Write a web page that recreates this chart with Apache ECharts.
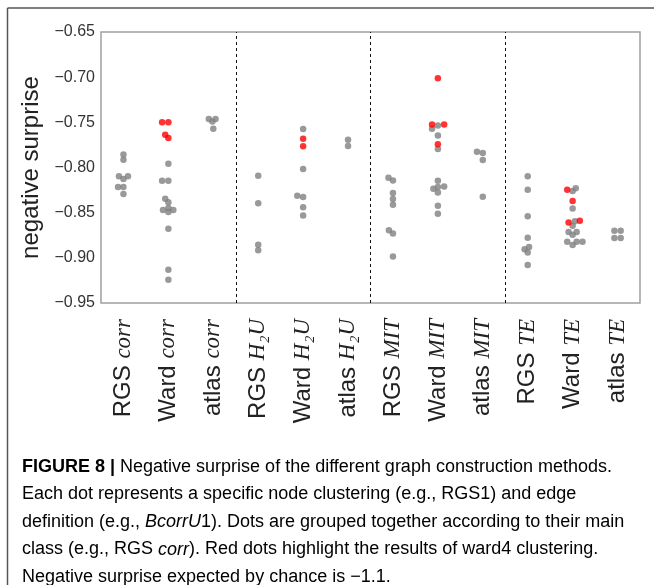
<!DOCTYPE html>
<html>
<head>
<meta charset="utf-8">
<script src="https://cdn.jsdelivr.net/npm/echarts@6/dist/echarts.min.js"></script>
<style>
html,body{margin:0;padding:0;background:#fff;}
#chart{width:654px;height:585px;}
</style>
</head>
<body>
<div id="chart"></div>
<script>
// ---- data ----
const methods = ['RGS', 'Ward', 'atlas'];
const classes = ['corr', 'H₂U', 'MIT', 'TE'];
const categories = classes.flatMap(c => methods.map(m => m + ' ' + c));

const yTicks = [-0.95, -0.90, -0.85, -0.80, -0.75, -0.70, -0.65];

const grayValues = [
  [-0.7855, -0.7914, -0.8098, -0.8098, -0.8128, -0.8216, -0.8216, -0.8293],
  [-0.7958, -0.8146, -0.8146, -0.8345, -0.8386, -0.8448, -0.847, -0.847, -0.8493, -0.8678, -0.9131, -0.9242],
  [-0.7463, -0.7463, -0.749, -0.757],
  [-0.809, -0.8397, -0.8855, -0.8917],
  [-0.7574, -0.8017, -0.8312, -0.8327, -0.8441, -0.853],
  [-0.7692, -0.7762],
  [-0.8113, -0.8143, -0.8283, -0.8349, -0.8412, -0.8696, -0.873, -0.8984],
  [-0.7535, -0.757, -0.7645, -0.7795, -0.8146, -0.8209, -0.8215, -0.8235, -0.8276, -0.8423, -0.8512],
  [-0.7825, -0.784, -0.7917, -0.8323],
  [-0.8098, -0.8246, -0.8541, -0.8777, -0.888, -0.8906, -0.894, -0.908],
  [-0.823, -0.826, -0.8453, -0.8595, -0.8644, -0.8714, -0.8714, -0.8744, -0.8822, -0.8822, -0.8822, -0.8858],
  [-0.870, -0.870, -0.878, -0.878]
];
// swarm offsets (in category widths)
const grayJitter = [
  [0, 0, -0.1, 0.1, 0, -0.12, 0, 0],
  [0, -0.14, 0, -0.07, 0, 0, -0.12, 0.11, 0, 0, 0, 0],
  [-0.1, 0.05, -0.02, 0],
  [0, 0, 0, 0],
  [0, 0, -0.13, 0, 0, 0],
  [0, 0],
  [-0.1, 0, 0, 0, 0, -0.09, 0, 0],
  [0, -0.13, 0, 0, 0, 0.14, 0, -0.1, 0, 0, 0],
  [-0.13, 0, 0, 0],
  [0, 0, 0, 0, 0.03, -0.07, 0, 0],
  [0.07, 0, 0, 0.05, 0, -0.09, 0.09, 0, -0.12, 0.09, 0.22, 0],
  [-0.07, 0.07, -0.07, 0.07]
];
const redValues = [
  [], [-0.750, -0.750, -0.7637, -0.7674], [],
  [], [-0.7681, -0.7766], [],
  [], [-0.7013, -0.7523, -0.7523, -0.7744], [],
  [], [-0.8246, -0.8371, -0.8608, -0.8589], []
];
const redJitter = [
  [], [-0.14, 0, -0.07, 0], [],
  [], [0, 0], [],
  [], [0, -0.13, 0.14, 0], [],
  [], [-0.12, 0, -0.09, 0.16], []
];
const groupSeparators = [2.5, 5.5, 8.5];

const captionLines = [
  [['b', 'FIGURE 8 | '], ['n', 'Negative surprise of the different graph construction methods.']],
  [['n', 'Each dot represents a specific node clustering (e.g., RGS1) and edge']],
  [['n', 'definition (e.g., '], ['i', 'BcorrU'], ['n', '1). Dots are grouped together according to their main']],
  [['n', 'class (e.g., RGS '], ['i', 'corr'], ['n', '). Red dots highlight the results of ward4 clustering.']],
  [['n', 'Negative surprise expected by chance is −1.1.']]
];

// ---- build ----
function toPoints(vals, jit) {
  const out = [];
  vals.forEach((arr, i) => arr.forEach((v, k) => out.push([i + jit[i][k], v])));
  return out;
}
const captionRich = captionLines.map(line =>
  line.map(([st, t]) => '{' + st + '|' + t + '}').join('')
).join('\n');

const chart = echarts.init(document.getElementById('chart'), null, {renderer: 'canvas'});
const option = {
  animation: false,
  backgroundColor: '#fff',
  grid: {left: 101, top: 32, right: 14, bottom: 282, show: true, borderColor: '#a0a0a0', borderWidth: 1.5, backgroundColor: 'transparent'},
  xAxis: [
    {
      type: 'category', data: categories, position: 'bottom',
      axisLine: {show: false}, axisTick: {show: false}, splitLine: {show: false},
      axisLabel: {
        interval: 0, rotate: 90, margin: 16,
        formatter: v => { const p = v.split(' '); return '{m|' + p[0] + ' }{c|' + p[1] + '}'; },
        rich: {
          m: {fontFamily: 'Liberation Sans', fontSize: 24, color: '#222'},
          c: {fontFamily: 'Liberation Serif', fontStyle: 'italic', fontSize: 23, color: '#222'}
        }
      }
    },
    {type: 'value', min: -0.5, max: 11.5, show: false}
  ],
  yAxis: {
    type: 'value', min: yTicks[0], max: yTicks[yTicks.length - 1], interval: 0.05,
    name: 'negative surprise', nameLocation: 'middle', nameGap: 42,
    nameTextStyle: {fontFamily: 'Liberation Sans', fontSize: 24, color: '#222'},
    axisLine: {show: false}, axisTick: {show: false}, splitLine: {show: false},
    axisLabel: {
      fontFamily: 'Liberation Sans', fontSize: 16, color: '#333', margin: 6,
      formatter: v => (v < 0 ? '−' : '') + Math.abs(v).toFixed(2)
    }
  },
  series: [
    {
      type: 'scatter', xAxisIndex: 1, symbolSize: 6.5,
      itemStyle: {color: '#808080'},
      data: toPoints(grayValues, grayJitter),
      markLine: {
        silent: true, symbol: ['none', 'none'], label: {show: false},
        lineStyle: {color: '#111', width: 1, type: [3, 3]},
        data: groupSeparators.map(x => ({xAxis: x}))
      }
    },
    {
      type: 'scatter', xAxisIndex: 1, symbolSize: 6.5,
      itemStyle: {color: '#ff0000'},
      data: toPoints(redValues, redJitter)
    }
  ],
  graphic: [
    {type: 'line', shape: {x1: 7.5, y1: 8, x2: 654, y2: 8}, style: {stroke: '#555', lineWidth: 1.5}},
    {type: 'line', shape: {x1: 7.5, y1: 8, x2: 7.5, y2: 585}, style: {stroke: '#555', lineWidth: 1.5}},
    {
      type: 'text', left: 22, top: 458,
      style: {
        text: captionRich,
        rich: {
          b: {fontFamily: 'Liberation Sans', fontWeight: 'bold', fontSize: 18, color: '#222', lineHeight: 27.5},
          n: {fontFamily: 'Liberation Sans', fontSize: 18, color: '#3a3a3a', lineHeight: 27.5},
          i: {fontFamily: 'Liberation Sans', fontStyle: 'italic', fontSize: 18, color: '#3a3a3a', lineHeight: 27.5}
        }
      }
    }
  ]
};
chart.setOption(option);
</script>
</body>
</html>
